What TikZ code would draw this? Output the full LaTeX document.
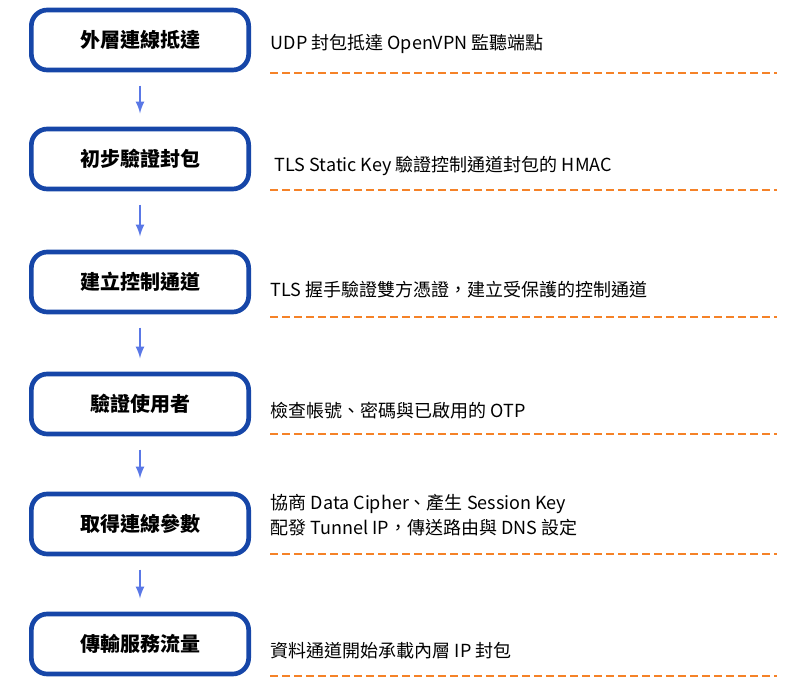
\documentclass[tikz,border=0pt]{standalone}
\usepackage{fontspec}
\setmainfont{Noto Sans CJK TC}
\usetikzlibrary{positioning}
\definecolor{boxblue}{RGB}{22,70,168}
\definecolor{arrblue}{RGB}{90,120,230}
\definecolor{dashorange}{RGB}{245,130,40}
\begin{document}
\begin{tikzpicture}[x=0.75pt,y=-0.75pt,
  stage/.style={draw=boxblue,line width=3.5pt,rounded corners=12pt,fill=white,
    minimum width=163pt,minimum height=45pt,font=\fontsize{15}{18}\selectfont\bfseries},
  desc/.style={anchor=west,align=left,font=\fontsize{13.5}{19}\selectfont},
  flow/.style={->,>=latex,arrblue,line width=2pt,shorten <=10pt,shorten >=10pt},
  sep/.style={dashorange,line width=2pt,dash pattern=on 6pt off 3pt}]

  \useasboundingbox (0,0) rectangle (809,688);

  % stages
  \node[stage] (s1) at (140,40) {外層連線抵達};
  \node[stage] (s2) at (140,159) {初步驗證封包};
  \node[stage] (s3) at (140,282) {建立控制通道};
  \node[stage] (s4) at (140,404) {驗證使用者};
  \node[stage] (s5) at (140,524) {取得連線參數};
  \node[stage] (s6) at (140,644) {傳輸服務流量};

  \foreach \a/\b in {s1/s2,s2/s3,s3/s4,s4/s5,s5/s6}
    \draw[flow] (\a) -- (\b);

  % descriptions
  \node[desc] (d1) at (266,44) {UDP 封包抵達 OpenVPN 監聽端點};
  \node[desc] (d2) at (270,166) {TLS Static Key 驗證控制通道封包的 HMAC};
  \node[desc] (d3) at (266,290) {TLS 握手驗證雙方憑證，建立受保護的控制通道};
  \node[desc] (d4) at (266,411) {檢查帳號、密碼與已啟用的 OTP};
  \node[desc] (d5) at (266,515) {協商 Data Cipher、產生 Session Key\\配發 Tunnel IP，傳送路由與 DNS 設定};
  \node[desc] (d6) at (266,651) {資料通道開始承載內層 IP 封包};

  % separators
  \foreach \y/\n in {73/1,190/2,317/3,434/4,554/5,676/6} {
    \coordinate (l\n) at (270,\y);
    \coordinate (r\n) at (777,\y);
    \draw[sep] (l\n) -- (r\n);
  }
\end{tikzpicture}
\end{document}
